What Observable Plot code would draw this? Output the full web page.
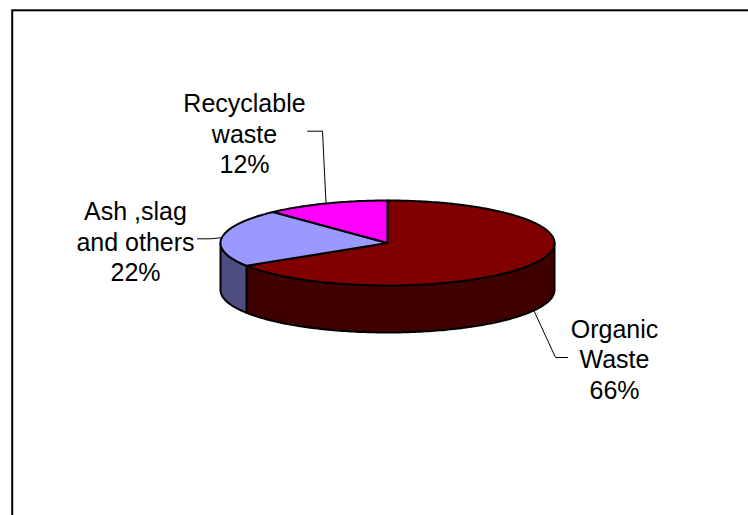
<!DOCTYPE html>
<html>
<head>
<meta charset="utf-8">
<script src="https://cdn.jsdelivr.net/npm/d3@7"></script>
<script src="https://cdn.jsdelivr.net/npm/@observablehq/plot@0.6"></script>
<style>
  html, body { margin: 0; padding: 0; background: #ffffff; }
  #chart svg { display: block; }
</style>
</head>
<body>
<div id="chart"></div>
<script>
// ---- data ----
const categories = ["Organic Waste", "Ash ,slag and others", "Recyclable waste"];
const values = [66, 22, 12];
const labelLines = [["Organic", "Waste"], ["Ash ,slag", "and others"], ["Recyclable", "waste"]];

// ---- styles ----
const topColors = ["#800000", "#9999FF", "#FF00FF"];
const sideColors = ["#400000", "#4D4D80", "#800080"];

// ---- layout ----
const W = 748, H = 515;
const pie3d = {cx: 387, cy: 242.5, rx: 167, ry: 42.5, depth: 47};
// label block: center x, top y; leader: elbow and end points near the label
const labelLayout = [
  {x: 614, y: 315.6, elbow: [555, 357], end: [567, 357]},
  {x: 135, y: 198.3, elbow: [210, 238.3], end: [197, 238.3]},
  {x: 244, y: 90, elbow: [322, 130.7], end: [307, 130.7]}
];
const fontSize = 25;

// ---- geometry from the data ----
const arcs = d3.pie().sort(null).startAngle(0).endAngle(2 * Math.PI)(values);
const topPt = a => [pie3d.cx + pie3d.rx * Math.sin(a), pie3d.cy - pie3d.ry * Math.cos(a)];
const botPt = a => { const p = topPt(a); return [p[0], p[1] + pie3d.depth]; };
function arcPts(a0, a1, f) {
  const n = Math.max(2, Math.ceil(Math.abs(a1 - a0) / (Math.PI / 180)));
  return d3.range(n + 1).map(i => f(a0 + (a1 - a0) * i / n));
}

const marks = [];
// side walls (front half only)
arcs.forEach((a, i) => {
  const s0 = Math.max(a.startAngle, Math.PI / 2);
  const s1 = Math.min(a.endAngle, 3 * Math.PI / 2);
  if (s0 < s1) {
    const pts = [...arcPts(s0, s1, topPt), ...arcPts(s1, s0, botPt)];
    marks.push(Plot.line(pts, {
      x: d => d[0], y: d => d[1], curve: "linear-closed",
      fill: sideColors[i], stroke: "#000", strokeWidth: 2, strokeLinejoin: "round"
    }));
  }
});
// top faces
arcs.forEach((a, i) => {
  const pts = [[pie3d.cx, pie3d.cy], ...arcPts(a.startAngle, a.endAngle, topPt)];
  marks.push(Plot.line(pts, {
    x: d => d[0], y: d => d[1], curve: "linear-closed",
    fill: topColors[i], stroke: "#000", strokeWidth: 2, strokeLinejoin: "round"
  }));
});
// leader lines
arcs.forEach((a, i) => {
  const mid = (a.startAngle + a.endAngle) / 2;
  const start = Math.cos(mid) < 0 ? botPt(mid) : topPt(mid);
  const L = labelLayout[i];
  marks.push(Plot.line([start, L.elbow, L.end], {
    x: d => d[0], y: d => d[1], stroke: "#000", strokeWidth: 1
  }));
});
// labels
const labelData = categories.map((c, i) => ({
  text: [...labelLines[i], values[i] + "%"].join("\n"),
  x: labelLayout[i].x, y: labelLayout[i].y
}));
marks.push(Plot.text(labelData, {
  x: "x", y: "y", text: "text", textAnchor: "middle", lineAnchor: "top",
  lineHeight: 1.22, fontSize, fontFamily: "Liberation Sans, Arial, sans-serif", fill: "#000"
}));
// chart border
marks.push(Plot.frame({stroke: "#000", strokeWidth: 2, insetLeft: 11.7, insetTop: 9.8, insetRight: -5, insetBottom: -5}));

const chart = Plot.plot({
  width: W, height: H,
  marginTop: 0, marginRight: 0, marginBottom: 0, marginLeft: 0,
  x: {domain: [0, W], range: [0, W], axis: null},
  y: {domain: [0, H], range: [0, H], axis: null},
  style: {background: "#ffffff", overflow: "hidden"},
  marks
});
document.getElementById("chart").appendChild(chart);
</script>
</body>
</html>
